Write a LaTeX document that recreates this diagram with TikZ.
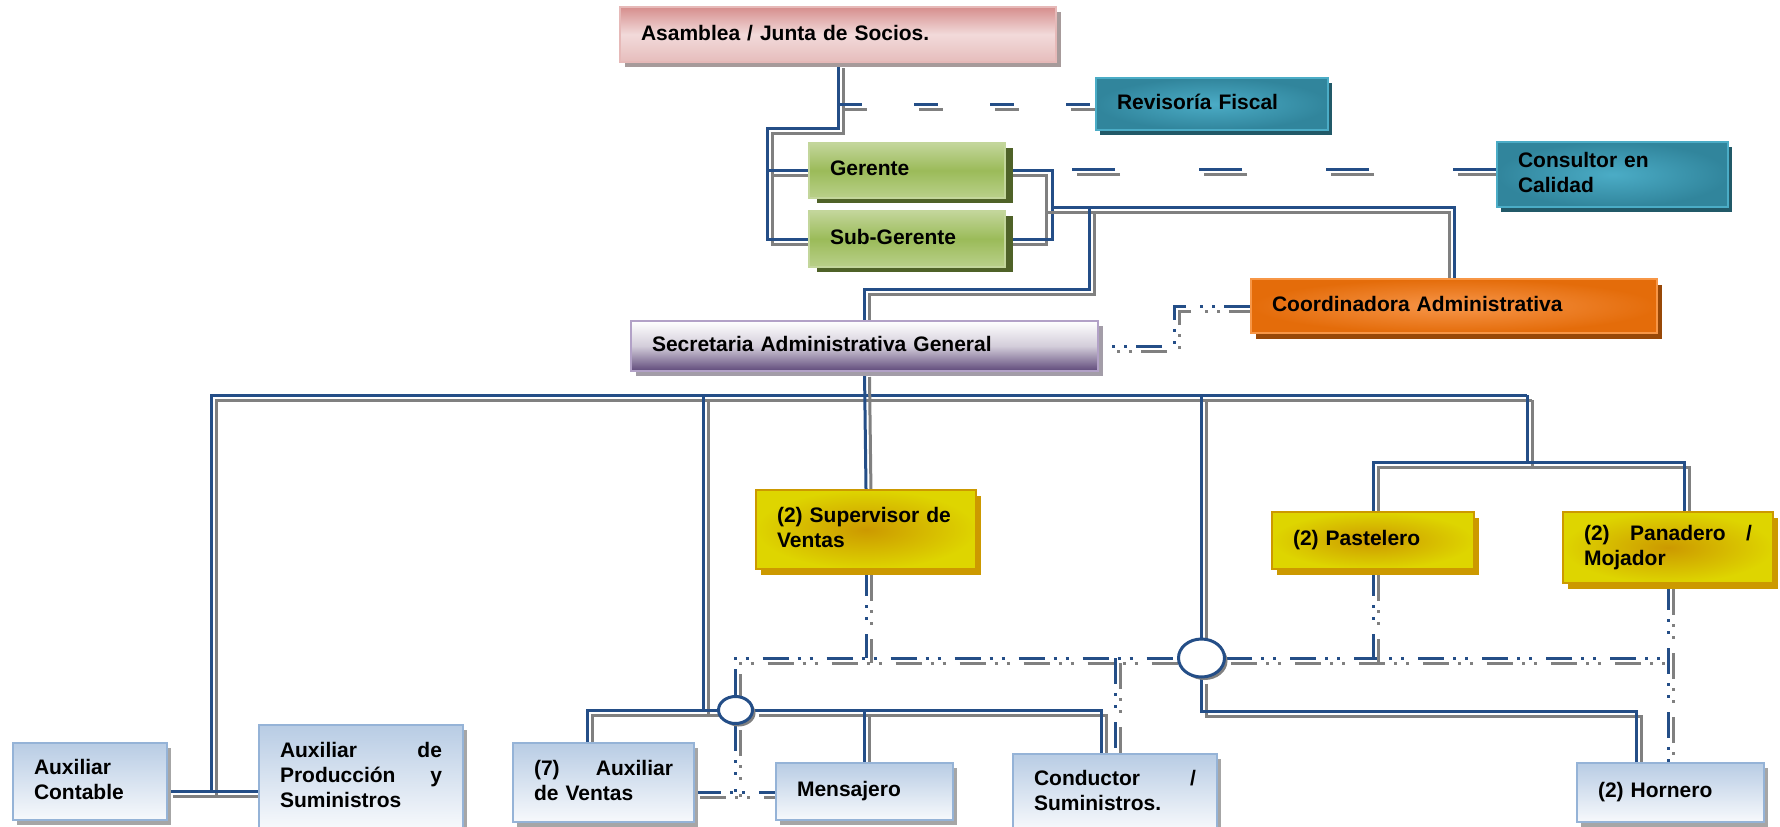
\documentclass[tikz,border=0pt]{standalone}
\usepackage{fontspec}
\setmainfont{Liberation Sans}
\usetikzlibrary{shapes.geometric,shadows}

\definecolor{lnblue}{HTML}{244E87}
\definecolor{lngray}{HTML}{808080}
\definecolor{roseedge}{HTML}{E6B9B8}
\definecolor{rosetop}{HTML}{D68E8D}
\definecolor{rosemid}{HTML}{F2DADA}
\definecolor{rosebot}{HTML}{E6BDBC}
\definecolor{roseshade}{HTML}{A79B9B}
\definecolor{tealedge}{HTML}{4BACC6}
\definecolor{tealrim}{HTML}{31859C}
\definecolor{tealcore}{HTML}{4BACC6}
\definecolor{tealshade}{HTML}{215968}
\definecolor{leafedge}{HTML}{C3D69B}
\definecolor{leaftop}{HTML}{C3D69B}
\definecolor{leafmid}{HTML}{9BBB59}
\definecolor{leafbot}{HTML}{B9D08A}
\definecolor{leafshade}{HTML}{4F6228}
\definecolor{amberedge}{HTML}{F79646}
\definecolor{amberrim}{HTML}{E46C0A}
\definecolor{ambercore}{HTML}{F7964A}
\definecolor{ambershade}{HTML}{984807}
\definecolor{lilacedge}{HTML}{B2A1C7}
\definecolor{lilacmid}{HTML}{D3CDDA}
\definecolor{lilacbot}{HTML}{5F497A}
\definecolor{lilacshade}{HTML}{A39DA8}
\definecolor{goldrim}{HTML}{DED500}
\definecolor{goldcore}{HTML}{CC9900}
\definecolor{skyedge}{HTML}{95B3D7}
\definecolor{skytop}{HTML}{B8CCE4}
\definecolor{skybot}{HTML}{F7F9FC}
\definecolor{skyshade}{HTML}{A6A6A6}

\pgfdeclarelayer{back}
\pgfsetlayers{back,main}

\begin{document}
\begin{tikzpicture}[x=1pt, y=-1pt,
    unit/.style={rectangle, anchor=north west, inner xsep=21pt, inner ysep=0pt, line width=2pt, align=left,
        font=\bfseries\fontsize{21}{25}\selectfont, execute at end node={\rule[-4pt]{0pt}{4pt}}},
    boxrose/.style={unit, draw=roseedge, top color=rosetop, bottom color=rosebot, middle color=rosemid,
        drop shadow={shadow xshift=5pt, shadow yshift=-5pt, fill=roseshade, opacity=1}},
    boxteal/.style={unit, draw=tealedge, inner color=tealcore, outer color=tealrim,
        drop shadow={shadow xshift=4pt, shadow yshift=-5pt, fill=tealshade, opacity=1}},
    boxleaf/.style={unit, draw=leafedge, top color=leaftop, bottom color=leafbot, middle color=leafmid,
        drop shadow={shadow xshift=8pt, shadow yshift=-5pt, fill=leafshade, opacity=1}},
    boxamber/.style={unit, draw=amberedge, inner color=ambercore, outer color=amberrim,
        drop shadow={shadow xshift=5pt, shadow yshift=-6pt, fill=ambershade, opacity=1}},
    boxlilac/.style={unit, draw=lilacedge, top color=white, bottom color=lilacbot, middle color=lilacmid,
        drop shadow={shadow xshift=5pt, shadow yshift=-5pt, fill=lilacshade, opacity=1}},
    boxgold/.style={unit, draw=goldcore, inner color=goldcore, outer color=goldrim,
        drop shadow={shadow xshift=5pt, shadow yshift=-6pt, fill=goldcore, opacity=1}},
    boxsky/.style={unit, draw=skyedge, top color=skytop, bottom color=skybot,
        drop shadow={shadow xshift=4pt, shadow yshift=-5pt, fill=skyshade, opacity=1}},
    hub/.style={ellipse, draw=lnblue, line width=3pt, fill=white, inner sep=0pt,
        drop shadow={shadow xshift=3pt, shadow yshift=-3pt, fill=lngray, opacity=1}},
    dashing/.style={solid},
    tie/.style={draw=lnblue, line width=3pt, dashing,
        preaction={draw=lngray, line width=3pt, dashing, transform canvas={shift={(#1)}}}},
    tie/.default={5,5},
    lane/.style={dashing/.style={dash pattern=on 24pt off 52pt}, tie},
    farlane/.style={dashing/.style={dash pattern=on 43pt off 84pt}, tie},
    dotlink/.style={dashing/.style={dash pattern=on 26pt off 9pt on 3pt off 9pt on 3pt off 14pt}, tie}]

    \useasboundingbox (0,0) rectangle (1780,827);
    \clip (0,0) rectangle (1780,827);

    % Board and management.
    \node[boxrose, minimum width=436pt, minimum height=55pt, text width=394pt] (asam) at (619,6) {Asamblea / Junta de Socios.};
    \node[boxteal, minimum width=232pt, minimum height=52pt, text width=190pt] (rev) at (1095,77) {Revisoría Fiscal};
    \node[boxteal, minimum width=231pt, minimum height=65pt, text width=189pt, inner xsep=18pt] (cons) at (1496,141) {Consultor en\\Calidad};
    \node[boxleaf, minimum width=196pt, minimum height=55pt, text width=154pt] (ger) at (808,142) {Gerente};
    \node[boxleaf, minimum width=196pt, minimum height=56pt, text width=154pt] (sub) at (808,210) {Sub-Gerente};

    % Administration.
    \node[boxamber, minimum width=406pt, minimum height=54pt, text width=364pt] (coord) at (1250,278) {Coordinadora Administrativa};
    \node[boxlilac, minimum width=467pt, minimum height=50pt, text width=425pt] (sec) at (630,320) {Secretaria Administrativa General};

    % Supervisors.
    \node[boxgold, minimum width=220pt, minimum height=79pt, text width=178pt] (sup) at (755,489) {(2) Supervisor de\\Ventas};
    \node[boxgold, minimum width=202pt, minimum height=57pt, text width=160pt] (past) at (1271,511) {(2) Pastelero};
    \node[boxgold, minimum width=210pt, minimum height=71pt, text width=168pt] (pan) at (1562,511) {(2)\hfill Panadero\hfill /\\Mojador};

    % Staff.
    \node[boxsky, minimum width=154pt, minimum height=77pt, text width=112pt] (cont) at (12,742) {Auxiliar\\Contable};
    \node[boxsky, minimum width=204pt, minimum height=104pt, text width=162pt] (prod) at (258,724) {Auxiliar\hfill de\\Producción\hfill y\\Suministros};
    \node[boxsky, minimum width=181pt, minimum height=79pt, text width=139pt] (vent) at (512,742) {(7)\hfill Auxiliar\\de Ventas};
    \node[boxsky, minimum width=177pt, minimum height=57pt, text width=135pt] (mens) at (775,762) {Mensajero};
    \node[boxsky, minimum width=204pt, minimum height=76pt, text width=162pt] (cond) at (1012,753) {Conductor\hfill /\\Suministros.};
    \node[boxsky, minimum width=187pt, minimum height=59pt, text width=145pt] (horn) at (1576,762) {(2) Hornero};

    % Junctions.
    \node[hub, minimum width=34pt, minimum height=27pt] (hub_1) at (735.5,710) {};
    \node[hub, minimum width=46pt, minimum height=38pt] (hub_2) at (1201.5,658) {};

    \begin{pgfonlayer}{back}
        % Board to management.
        \coordinate (gl) at (767,128);
        \draw[tie] (asam.south) |- (gl) |- (sub.west);
        \draw[tie] (gl |- ger.west) -- (ger.west);
        \draw[lane] (asam.south |- rev.west) -- (rev.west);

        % Management to administration.
        \coordinate (gr) at (1052,207);
        \coordinate (gs) at (1089,207);
        \coordinate (gc) at (1073,207);
        \draw[tie={-6,5}] (ger.east) -| (gr) |- (sub.east);
        \draw[tie={-5,5}] (gr) -| (coord.north);
        \draw[tie] (gs) |- ([yshift=31pt]sec.north) -- (sec.north);
        \draw[farlane] ([yshift=5pt]cons.west) -| (gc);
        \coordinate (gd) at (1174,325);
        \draw[dotlink] (coord.west) -| (gd) |- (sec.east);

        % Main bus.
        \coordinate (bus_l) at (211,395);
        \coordinate (bus_r) at (1527,395);
        \coordinate (gx) at (211,791);
        \draw[tie] (bus_r) -- (bus_l) -- (gx);
        \draw[tie] (cont.east |- gx) -- (prod.west |- gx);
        \draw[tie] (sec.south) -- (sup.north);

        % Bakery branch.
        \coordinate (gp) at (1527,462);
        \draw[tie] (bus_r) -- (gp);
        \draw[tie] (past.north) |- (gp) -| ([xshift=16pt]pan.north);

        % Sales branch.
        \coordinate (gv) at (703,395);
        \coordinate (gw) at (587,710);
        \draw[tie] (gv) |- (hub_1.west);
        \draw[tie] (gw |- vent.north) |- (hub_1.west);
        \draw[tie] (hub_1.east) -| ([xshift=-14pt]cond.north);
        \draw[tie] (mens.north |- hub_1.east) -- (mens.north);

        % Oven branch.
        \coordinate (gh) at (1201.5,395);
        \coordinate (gk) at (1636,711);
        \draw[tie] (gh) -- (hub_2.north);
        \draw[tie] (hub_2.south) |- (gk) -- (gk |- horn.north);

        % Coordination lines.
        \coordinate (gm) at (735.5,792);
        \draw[dotlink] (hub_1.north) |- (hub_2.west);
        \draw[dotlink] (hub_2.east) -- (pan.south |- hub_2.east);
        \draw[dotlink] (sup.south) -- (sup.south |- hub_2.west);
        \draw[dotlink] (past.south) -- (past.south |- hub_2.west);
        \draw[dotlink] (cond.north |- hub_2.west) -- (cond.north);
        \draw[dotlink] (pan.south) -- (pan.south |- horn.north);
        \draw[dotlink] (hub_1.south) -- (gm);
        \draw[dotlink] (vent.east |- gm) -- (mens.west |- gm);
    \end{pgfonlayer}

\end{tikzpicture}
\end{document}
